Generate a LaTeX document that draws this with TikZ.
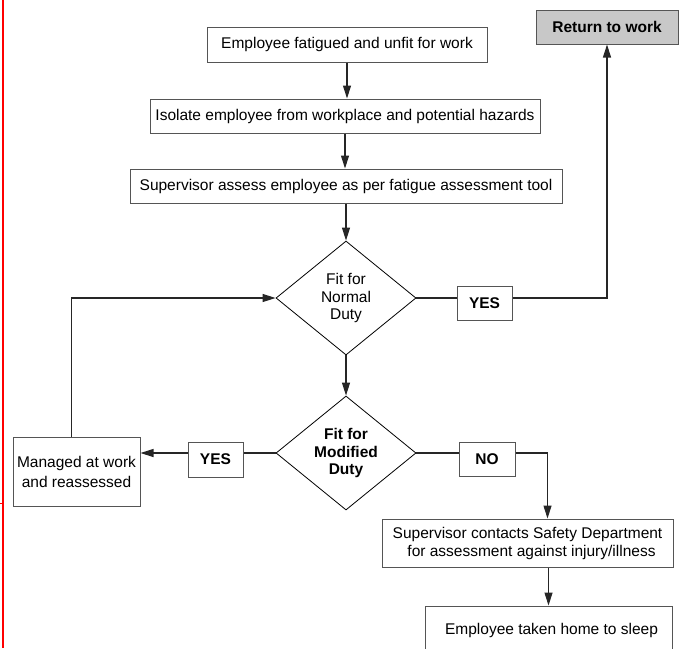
\documentclass[tikz,border=0pt]{standalone}
\usepackage{fontspec}
\setmainfont{Liberation Sans}
\usetikzlibrary{shapes.geometric,arrows.meta}
\definecolor{boxgray}{RGB}{85,85,85}
\definecolor{retfill}{RGB}{200,200,200}
\begin{document}
\begin{tikzpicture}[x=1pt,y=-1pt,
  every node/.style={font=\fontsize{15.5}{18}\selectfont},
  box/.style={draw=boxgray, line width=1pt, fill=white, inner sep=0pt, align=center},
  dec/.style={draw=black, line width=0.8pt, shape=diamond, inner sep=0pt, align=center, minimum width=140pt, minimum height=114pt},
  conn/.style={draw=black!85, line width=1.1pt},
  arr/.style={conn, -{Triangle[length=13pt,width=8pt]}}
]
\useasboundingbox (0,0) rectangle (684,648);
\clip (0,0) rectangle (684,648);
\draw[red, line width=2pt] (2.5,0) -- (2.5,648);
\draw[red, line width=1pt] (0,503) -- (4,503);

\node[box, minimum width=280pt, minimum height=35pt] (b1) at (347,44.5) {Employee fatigued and unfit for work};
\node[box, minimum width=390pt, minimum height=34pt] (b2) at (345,116) {Isolate employee from workplace and potential hazards};
\node[box, minimum width=432pt, minimum height=34pt] (b3) at (346,186) {Supervisor assess employee as per fatigue assessment tool};
\node[box, fill=retfill, minimum width=142pt, minimum height=34pt, font=\fontsize{15.5}{18}\selectfont\bfseries] (ret) at (607,27) {Return to work};
\node[dec, font=\fontsize{15.5}{17.5}\selectfont] (d1) at (346,298) {Fit for\\Normal\\Duty};
\node[box, minimum width=55pt, minimum height=34pt, font=\fontsize{15.5}{18}\selectfont\bfseries] (yes1) at (484.5,303) {YES};
\node[dec, font=\fontsize{15.5}{17.5}\selectfont\bfseries] (d2) at (346,453) {Fit for\\Modified\\Duty};
\node[box, minimum width=55pt, minimum height=35pt, font=\fontsize{15.5}{18}\selectfont\bfseries] (yes2) at (215.5,459.5) {YES};
\node[box, minimum width=127pt, minimum height=69pt, font=\fontsize{15.5}{20}\selectfont] (man) at (76.5,471.5) {Managed at work\\and reassessed};
\node[box, minimum width=56pt, minimum height=34pt, font=\fontsize{15.5}{18}\selectfont\bfseries] (no) at (487,459) {NO};
\node[box, minimum width=291pt, minimum height=48pt] (sup) at (527.5,543) {Supervisor contacts Safety Department\\\hspace*{8pt}for assessment against injury/illness};
\node[box, minimum width=247pt, minimum height=48pt] (home) at (548.5,630) {\hspace*{6pt}Employee taken home to sleep};

\draw[arr] (b1.south) -- (b1.south |- b2.north);
\draw[arr] (b2.south) -- (b2.south |- b3.north);
\draw[arr] (b3.south) -- (d1.north);
\draw[conn] (d1.east) -- (d1.east -| yes1.west);
\draw[arr] (d1.east -| yes1.east) -| (ret.south);
\draw[arr] (d1.south) -- (d2.north);
\draw[conn] (d2.west) -- (d2.west -| yes2.east);
\draw[arr] (d2.west -| yes2.west) -- (d2.west -| man.east);
\draw[arr] ([xshift=-5pt]man.north) |- (d1.west);
\draw[conn] (d2.east) -- (d2.east -| no.west);
\draw[arr] (d2.east -| no.east) -| ([xshift=20pt]sup.north);
\draw[arr] (home.north |- sup.south) -- (home.north);
\end{tikzpicture}
\end{document}
